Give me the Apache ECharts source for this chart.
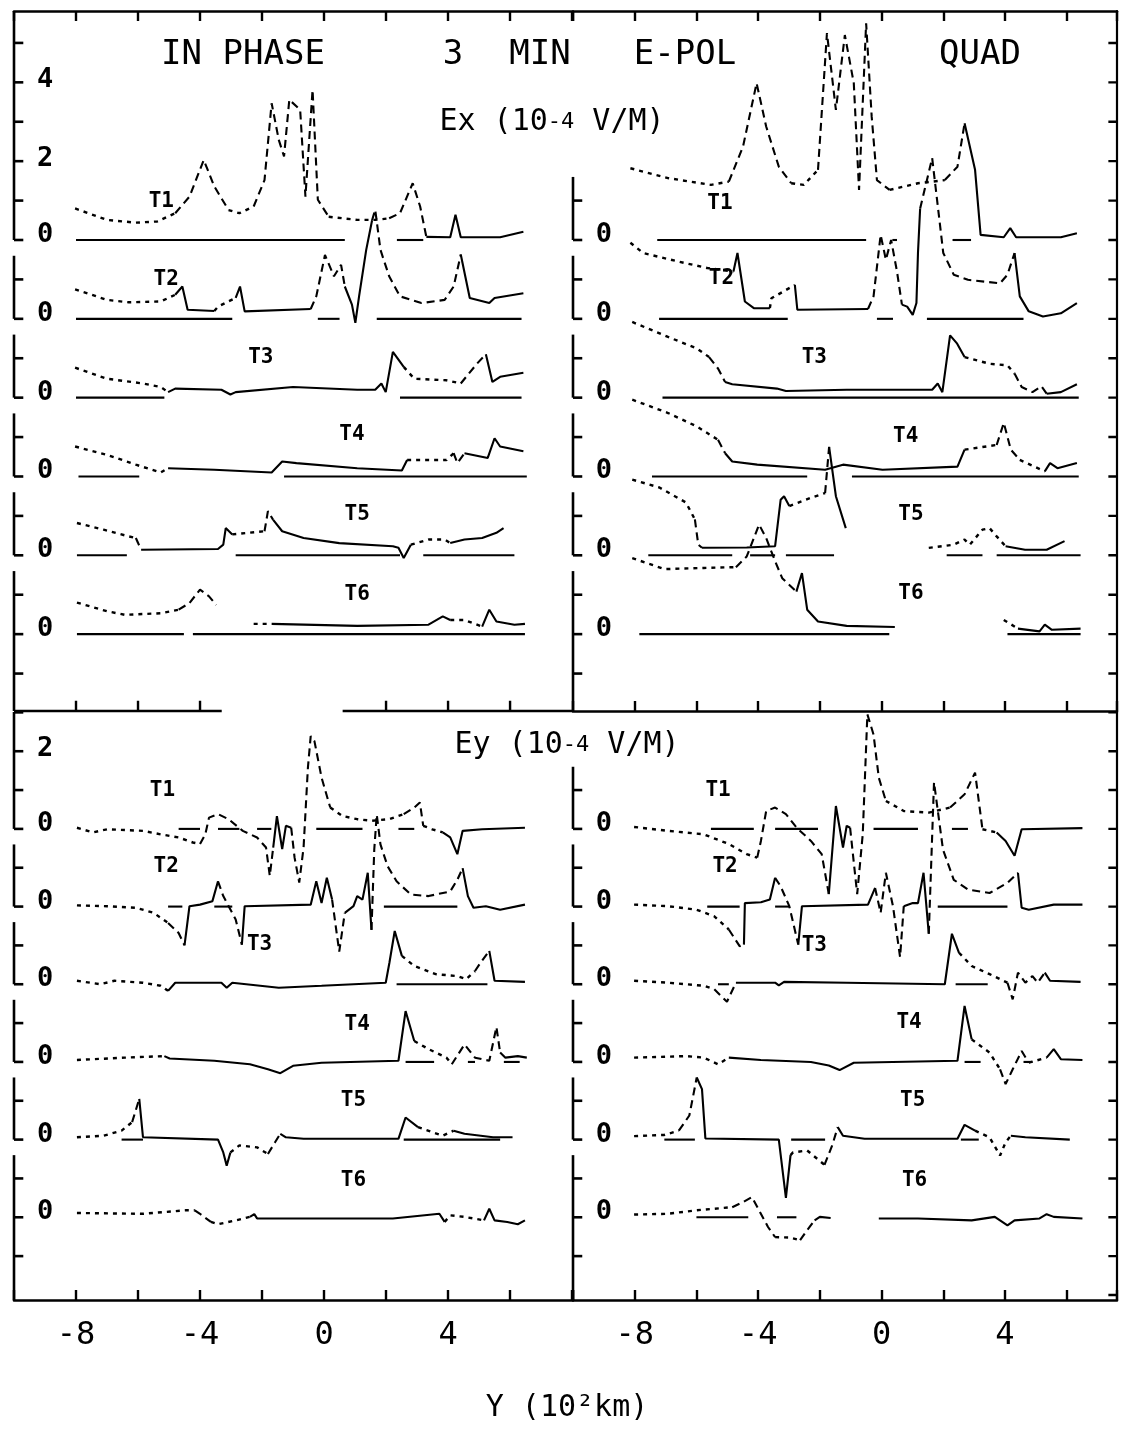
<!DOCTYPE html>
<html>
<head>
<meta charset="utf-8">
<script src="https://cdn.jsdelivr.net/npm/echarts@6/dist/echarts.min.js"></script>
<style>
html, body { margin: 0; background: #fff; }
#chart { width: 1122px; height: 1434px; }
</style>
</head>
<body>
<div id="chart"></div>
<script>
// each trace: list of [style, points], point = [Y (10^2 km), E (10^-4 V/M) above its own zero]

// ---- Ex, in phase
const exIpT1 = [
  ['dot', [[-8.03, 0.8], [-7.0, 0.51], [-6.07, 0.44], [-5.38, 0.47], [-4.8, 0.68]]],
  ['dash', [[-4.8, 0.68], [-4.34, 1.1], [-3.88, 2.03], [-3.54, 1.36], [-3.08, 0.76]]],
  ['dot', [[-3.08, 0.76], [-2.73, 0.68], [-2.27, 0.85]]],
  ['dash', [[-2.27, 0.85], [-1.92, 1.52], [-1.69, 3.47], [-1.46, 2.54], [-1.29, 2.12], [-1.12, 3.56], [-0.77, 3.3], [-0.6, 1.1], [-0.37, 3.81], [-0.2, 1.02], [0.15, 0.59]]],
  ['dot', [[0.15, 0.59], [1.07, 0.51], [1.65, 0.51], [2.1, 0.55]]],
  ['dash', [[2.1, 0.55], [2.45, 0.68], [2.86, 1.44], [3.1, 0.85], [3.3, 0.08]]],
  ['solid', [[3.3, 0.08], [4.07, 0.07], [4.24, 0.64], [4.41, 0.07], [5.68, 0.07], [6.43, 0.21]]]
];
const exIpT2 = [
  ['dot', [[-8.03, 0.75], [-7.0, 0.48], [-6.3, 0.42], [-5.27, 0.44], [-4.8, 0.61]]],
  ['solid', [[-4.8, 0.61], [-4.57, 0.82], [-4.4, 0.23], [-3.54, 0.2]]],
  ['dot', [[-3.54, 0.2], [-3.42, 0.31], [-2.85, 0.53]]],
  ['solid', [[-2.85, 0.53], [-2.71, 0.82], [-2.56, 0.19], [-0.43, 0.25]]],
  ['dash', [[-0.43, 0.25], [-0.25, 0.57], [0.03, 1.62], [0.32, 1.08], [0.55, 1.37], [0.67, 0.82]]],
  ['solid', [[0.67, 0.82], [0.9, 0.36], [1.01, -0.1], [1.13, 0.57], [1.36, 1.75], [1.55, 2.5]]],
  ['dash', [[1.55, 2.5], [1.65, 2.77], [1.82, 1.75], [2.1, 1.08], [2.45, 0.57], [3.14, 0.4], [3.89, 0.48], [4.18, 0.82], [4.41, 1.63]]],
  ['solid', [[4.41, 1.63], [4.7, 0.53], [5.33, 0.4], [5.5, 0.53], [6.43, 0.65]]]
];
const exIpT3 = [
  ['dot', [[-8.03, 0.76], [-7.0, 0.48], [-5.84, 0.36], [-5.27, 0.27], [-5.03, 0.14]]],
  ['solid', [[-5.03, 0.14], [-4.8, 0.23], [-3.31, 0.2], [-3.02, 0.08], [-2.85, 0.14], [-1.0, 0.27], [1.07, 0.2], [1.65, 0.2], [1.85, 0.36], [1.99, 0.14], [2.22, 1.16], [2.57, 0.78]]],
  ['dot', [[2.57, 0.78], [2.91, 0.48], [3.95, 0.44], [4.41, 0.36]]],
  ['dash', [[4.41, 0.36], [4.93, 0.86], [5.22, 1.1]]],
  ['solid', [[5.22, 1.1], [5.43, 0.4], [5.68, 0.53], [6.43, 0.63]]]
];
const exIpT4 = [
  ['dot', [[-8.03, 0.76], [-7.0, 0.55], [-6.07, 0.3], [-5.27, 0.1], [-5.03, 0.21]]],
  ['solid', [[-5.03, 0.21], [-3.54, 0.17], [-1.69, 0.1], [-1.35, 0.38], [-0.89, 0.34], [1.07, 0.21], [2.51, 0.15], [2.68, 0.42]]],
  ['dot', [[2.68, 0.42], [3.95, 0.42], [4.18, 0.59]]],
  ['dash', [[4.18, 0.59], [4.3, 0.34], [4.53, 0.59]]],
  ['solid', [[4.53, 0.59], [5.28, 0.47], [5.5, 0.97], [5.68, 0.76], [6.43, 0.64]]]
];
const exIpT5 = [
  ['dot', [[-7.97, 0.82], [-7.11, 0.65], [-6.3, 0.48], [-6.07, 0.44]]],
  ['dash', [[-6.07, 0.44], [-5.9, 0.14]]],
  ['solid', [[-5.9, 0.14], [-5.84, 0.12], [-3.42, 0.16], [-3.25, 0.27], [-3.17, 0.69], [-2.96, 0.53]]],
  ['dot', [[-2.96, 0.53], [-1.92, 0.61]]],
  ['dash', [[-1.92, 0.61], [-1.81, 1.12], [-1.64, 0.9]]],
  ['solid', [[-1.64, 0.9], [-1.35, 0.61], [-0.66, 0.44], [0.49, 0.31], [2.22, 0.23], [2.4, 0.19], [2.57, -0.07], [2.8, 0.27]]],
  ['dot', [[2.8, 0.27], [3.37, 0.4], [3.89, 0.4], [4.07, 0.31]]],
  ['solid', [[4.07, 0.31], [4.53, 0.4], [5.1, 0.44], [5.56, 0.57], [5.79, 0.69]]]
];
const exIpT6 = [
  ['dot', [[-7.97, 0.8], [-7.0, 0.58], [-6.42, 0.49], [-5.27, 0.53], [-4.69, 0.62]]],
  ['dash', [[-4.69, 0.62], [-4.34, 0.79], [-4.0, 1.13], [-3.71, 0.96], [-3.48, 0.74]]],
  ['dot', [[-2.27, 0.26], [-1.69, 0.26]]],
  ['solid', [[-1.69, 0.26], [1.07, 0.21], [3.37, 0.24], [3.83, 0.45], [4.07, 0.36]]],
  ['dot', [[4.07, 0.36], [4.53, 0.36], [5.1, 0.19]]],
  ['solid', [[5.1, 0.19], [5.33, 0.62], [5.56, 0.32], [6.14, 0.24], [6.48, 0.26]]]
];
const exIpBase = [
  [[-8, 0.67], [2.35, 3.2]],
  [[-8, -2.96], [-0.2, 0.5], [1.7, 6.37]],
  [[-8, -5.15], [2.45, 6.37]],
  [[-7.92, -5.96], [-1.29, 6.54]],
  [[-7.97, -6.36], [-2.85, 2.45], [3.2, 6.14]],
  [[-7.97, -4.52], [-4.23, 6.48]]
];
const exIpTags = [[-5.25, 0.97], [-5.09, 0.99], [-2.04, 1.03], [0.9, 1.06], [1.07, 1.03], [1.07, 1.0]];

// ---- Ex, quadrature
const exQdT1 = [
  ['dot', [[-8.14, 1.82], [-6.92, 1.57], [-5.53, 1.4], [-4.95, 1.48]]],
  ['dash', [[-4.95, 1.48], [-4.49, 2.37], [-4.05, 3.98], [-3.74, 2.88], [-3.33, 1.86], [-2.93, 1.44]]],
  ['dot', [[-2.93, 1.44], [-2.52, 1.4], [-2.06, 1.78]]],
  ['dash', [[-2.06, 1.78], [-1.77, 5.25], [-1.48, 3.3], [-1.19, 5.2], [-0.9, 3.98], [-0.73, 1.27], [-0.5, 5.5], [-0.32, 3.13], [-0.15, 1.52], [0.26, 1.27]]],
  ['dot', [[0.26, 1.27], [1.18, 1.44], [1.64, 1.48], [2.05, 1.52]]],
  ['dash', [[2.05, 1.52], [2.46, 1.86], [2.69, 2.96]]],
  ['solid', [[2.69, 2.96], [3.03, 1.78], [3.21, 0.13], [3.96, 0.07], [4.17, 0.3], [4.36, 0.07], [5.81, 0.07], [6.33, 0.17]]]
];
const exQdT2 = [
  ['dot', [[-8.14, 1.93], [-7.73, 1.67], [-6.57, 1.45], [-5.65, 1.29], [-4.8, 1.2]]],
  ['solid', [[-4.8, 1.2], [-4.67, 1.67], [-4.43, 0.44], [-4.14, 0.27], [-3.62, 0.27]]],
  ['dot', [[-3.62, 0.27], [-3.57, 0.52], [-2.81, 0.86]]],
  ['solid', [[-2.81, 0.86], [-2.73, 0.23], [-0.44, 0.25]]],
  ['dash', [[-0.44, 0.25], [-0.26, 0.57], [-0.03, 2.13], [0.14, 1.5], [0.31, 2.0], [0.5, 1.2], [0.66, 0.36]]],
  ['solid', [[0.66, 0.36], [0.83, 0.31], [1.01, 0.1], [1.13, 0.4], [1.18, 1.67], [1.25, 2.8]]],
  ['dash', [[1.25, 2.8], [1.64, 4.08], [2.0, 1.67], [2.34, 1.12], [2.8, 0.99], [3.84, 0.9], [4.08, 1.12], [4.31, 1.67]]],
  ['solid', [[4.31, 1.67], [4.48, 0.57], [4.77, 0.19], [5.23, 0.06], [5.81, 0.14], [6.33, 0.4]]]
];
const exQdT3 = [
  ['dot', [[-8.08, 1.92], [-6.92, 1.54], [-5.99, 1.25], [-5.59, 1.03]]],
  ['dash', [[-5.59, 1.03], [-5.3, 0.74], [-5.07, 0.4]]],
  ['solid', [[-5.07, 0.4], [-4.84, 0.34], [-3.39, 0.23], [-3.1, 0.17], [-1.13, 0.2], [1.64, 0.2], [1.82, 0.36], [1.97, 0.14], [2.22, 1.58], [2.45, 1.37], [2.69, 1.03]]],
  ['dot', [[2.69, 1.03], [3.5, 0.86], [4.08, 0.82], [4.31, 0.61]]],
  ['dash', [[4.31, 0.61], [4.54, 0.27], [4.89, 0.14], [5.18, 0.29], [5.35, 0.1]]],
  ['solid', [[5.35, 0.1], [5.81, 0.14], [6.33, 0.34]]]
];
const exQdT4 = [
  ['dot', [[-8.08, 1.95], [-6.92, 1.61], [-5.99, 1.27], [-5.3, 0.93]]],
  ['dash', [[-5.3, 0.93], [-5.07, 0.59]]],
  ['solid', [[-5.07, 0.59], [-4.84, 0.38], [-4.03, 0.3], [-1.83, 0.17], [-1.25, 0.3], [0.03, 0.17], [2.46, 0.25], [2.69, 0.68]]],
  ['dot', [[2.69, 0.68], [3.73, 0.8]]],
  ['dash', [[3.73, 0.8], [3.96, 1.36], [4.19, 0.68], [4.48, 0.42]]],
  ['dot', [[4.48, 0.42], [5.29, 0.13]]],
  ['solid', [[5.29, 0.13], [5.46, 0.34], [5.7, 0.21], [6.33, 0.34]]]
];
const exQdT5 = [
  ['dot', [[-8.08, 1.92], [-7.2, 1.72], [-6.34, 1.34], [-6.05, 0.91]]],
  ['dash', [[-6.05, 0.91], [-5.94, 0.27], [-5.82, 0.19]]],
  ['solid', [[-5.82, 0.19], [-4.37, 0.2], [-3.45, 0.23], [-3.27, 1.41], [-3.16, 1.5], [-2.99, 1.25]]],
  ['dot', [[-2.99, 1.25], [-2.29, 1.46], [-1.83, 1.58]]],
  ['dash', [[-1.83, 1.58], [-1.7, 2.75]]],
  ['solid', [[-1.7, 2.75], [-1.48, 1.5], [-1.16, 0.69]]],
  ['dot', [[1.53, 0.19], [2.34, 0.27], [2.69, 0.4], [2.86, 0.27], [3.27, 0.65], [3.5, 0.69], [3.73, 0.48], [4.02, 0.23]]],
  ['solid', [[4.02, 0.23], [4.65, 0.14], [5.35, 0.14], [5.93, 0.36]]]
];
const exQdT6 = [
  ['dot', [[-8.08, 1.93], [-7.04, 1.65], [-5.76, 1.68], [-4.72, 1.7]]],
  ['dash', [[-4.72, 1.7], [-4.37, 1.97], [-3.97, 2.78], [-3.74, 2.44], [-3.45, 1.85], [-3.22, 1.42], [-2.76, 1.08]]],
  ['solid', [[-2.76, 1.08], [-2.58, 1.55], [-2.41, 0.62], [-2.06, 0.32], [-1.13, 0.21], [0.43, 0.18]]],
  ['dot', [[3.96, 0.36], [4.42, 0.14]]],
  ['solid', [[4.42, 0.14], [5.12, 0.07], [5.29, 0.24], [5.52, 0.11], [6.45, 0.14]]]
];
const exQdBase = [
  [[-7.27, -0.5], [0.35, 0.5], [2.3, 2.9]],
  [[-7.21, -3.04], [-0.15, 0.37], [1.47, 4.6]],
  [[-7.1, 6.39]],
  [[-7.44, -2.41], [-0.96, 6.39]],
  [[-7.56, -4.84], [-4.26, -3.45], [-3.1, -1.54], [2.11, 3.27], [3.73, 6.45]],
  [[-7.85, 0.25], [4.08, 6.45]]
];
const exQdTags = [[-5.24, 0.93], [-5.19, 1.03], [-2.18, 1.03], [0.78, 1.02], [0.95, 1.03], [0.95, 1.04]];

// ---- Ey, in phase
const eyIpT1 = [
  ['dot', [[-7.97, 0.03], [-7.45, -0.09], [-7.0, -0.01], [-5.84, -0.05], [-5.27, -0.14], [-4.69, -0.22], [-4.23, -0.35], [-4.0, -0.39]]],
  ['dash', [[-4.0, -0.39], [-3.83, -0.14], [-3.71, 0.29], [-3.42, 0.38], [-3.08, 0.25], [-2.62, -0.05], [-2.16, -0.22], [-1.87, -0.48], [-1.75, -1.21], [-1.64, -0.48]]],
  ['solid', [[-1.64, -0.48], [-1.52, 0.33], [-1.35, -0.52], [-1.23, 0.08], [-1.06, 0.03]]],
  ['dash', [[-1.06, 0.03], [-0.95, -0.74], [-0.8, -1.38], [-0.66, -0.48], [-0.52, 1.58], [-0.43, 2.39], [-0.31, 2.26], [-0.08, 1.32], [0.2, 0.55]]],
  ['dot', [[0.2, 0.55], [0.6, 0.33], [1.07, 0.25], [1.53, 0.21], [2.11, 0.25], [2.57, 0.38]]],
  ['dash', [[2.57, 0.38], [2.91, 0.55], [3.09, 0.68], [3.2, 0.08]]],
  ['dot', [[3.2, 0.08], [3.49, -0.01], [3.83, -0.09]]],
  ['solid', [[3.83, -0.09], [4.07, -0.22], [4.3, -0.65], [4.47, -0.05], [5.1, -0.01], [6.48, 0.03]]]
];
const eyIpT2 = [
  ['dot', [[-7.97, 0.03], [-7.0, 0.01], [-6.07, -0.03], [-5.5, -0.16], [-5.03, -0.42]]],
  ['dash', [[-5.03, -0.42], [-4.69, -0.68], [-4.5, -1.0]]],
  ['solid', [[-4.5, -1.0], [-4.34, 0.01], [-4.0, 0.05], [-3.6, 0.14], [-3.42, 0.65]]],
  ['dash', [[-3.42, 0.65], [-3.25, 0.27], [-2.85, -0.33], [-2.65, -0.98]]],
  ['solid', [[-2.65, -0.98], [-2.56, 0.01], [-0.43, 0.05], [-0.25, 0.65], [-0.08, 0.09], [0.09, 0.74], [0.26, 0.18]]],
  ['dash', [[0.26, 0.18], [0.49, -1.16], [0.67, -0.16]]],
  ['solid', [[0.67, -0.16], [0.95, 0.01], [1.07, 0.27], [1.24, 0.18], [1.41, 0.87], [1.53, -0.6]]],
  ['dash', [[1.53, -0.6], [1.62, 1.47], [1.7, 2.37], [1.82, 1.6], [2.05, 1.04], [2.34, 0.65], [2.8, 0.31], [3.37, 0.27], [4.07, 0.39], [4.3, 0.69], [4.47, 0.99]]],
  ['solid', [[4.47, 0.99], [4.64, 0.27], [4.82, -0.03], [5.22, 0.01], [5.68, -0.08], [6.48, 0.05]]]
];
const eyIpT3 = [
  ['dot', [[-7.97, 0.09], [-7.22, 0], [-6.76, 0.09], [-5.84, 0.04], [-5.27, -0.04], [-5.03, -0.17]]],
  ['solid', [[-5.03, -0.17], [-4.8, 0.04], [-3.31, 0.04], [-3.14, -0.09], [-2.96, 0.04], [-1.46, -0.09], [-0.08, -0.04], [1.99, 0.04], [2.11, 0.56], [2.28, 1.37], [2.51, 0.73]]],
  ['dot', [[2.51, 0.73], [2.91, 0.47], [3.6, 0.26], [4.3, 0.21], [4.58, 0.13], [4.87, 0.34]]],
  ['dash', [[4.87, 0.34], [5.05, 0.56], [5.33, 0.86]]],
  ['solid', [[5.33, 0.86], [5.5, 0.09], [6.48, 0.06]]]
];
const eyIpT4 = [
  ['dot', [[-7.97, 0.05], [-6.42, 0.11], [-5.15, 0.15]]],
  ['solid', [[-5.15, 0.15], [-4.98, 0.09], [-3.54, 0.03], [-2.39, -0.06], [-1.81, -0.19], [-1.41, -0.29], [-1.0, -0.1], [-0.08, -0.02], [2.4, 0.03], [2.63, 1.31], [2.91, 0.54]]],
  ['dot', [[2.91, 0.54], [3.37, 0.33], [3.95, 0.11], [4.12, -0.06]]],
  ['dash', [[4.12, -0.06], [4.53, 0.45], [4.87, 0.11], [5.33, 0.03], [5.56, 0.9], [5.68, 0.24]]],
  ['solid', [[5.68, 0.24], [5.85, 0.11], [6.25, 0.15], [6.54, 0.11]]]
];
const eyIpT5 = [
  ['dot', [[-7.97, 0.06], [-7.11, 0.1], [-6.53, 0.23], [-6.19, 0.45]]],
  ['dash', [[-6.19, 0.45], [-5.96, 1.05]]],
  ['solid', [[-5.96, 1.05], [-5.84, 0.06], [-3.42, 0], [-3.25, -0.33], [-3.14, -0.67], [-3.02, -0.33]]],
  ['dot', [[-3.02, -0.33], [-2.73, -0.15], [-2.16, -0.2], [-1.81, -0.37]]],
  ['dash', [[-1.81, -0.37], [-1.58, -0.07], [-1.41, 0.15]]],
  ['solid', [[-1.41, 0.15], [-1.23, 0.06], [-0.66, 0.02], [2.4, 0.02], [2.63, 0.57], [3.03, 0.32]]],
  ['dot', [[3.03, 0.32], [3.83, 0.1], [4.18, 0.23]]],
  ['solid', [[4.18, 0.23], [4.53, 0.15], [5.45, 0.06], [6.08, 0.06]]]
];
const eyIpT6 = [
  ['dot', [[-7.97, 0.11], [-5.84, 0.09], [-4.46, 0.18], [-4.17, 0.18]]],
  ['dash', [[-4.17, 0.18], [-4.0, 0.09], [-3.65, -0.12]]],
  ['dot', [[-3.65, -0.12], [-3.42, -0.18], [-2.85, -0.08], [-2.39, 0.01]]],
  ['solid', [[-2.39, 0.01], [-2.25, 0.08], [-2.16, -0.03], [-0.08, -0.03], [2.22, -0.03], [3.72, 0.09], [3.89, -0.12]]],
  ['dot', [[3.89, -0.12], [4.07, 0.05], [4.53, 0.01], [5.16, -0.08]]],
  ['solid', [[5.16, -0.08], [5.33, 0.22], [5.5, -0.08], [5.91, -0.12], [6.25, -0.18], [6.48, -0.08]]]
];
const eyIpBase = [
  [[-4.69, -4.0], [-3.42, -2.73], [-2.16, -1.7], [-0.25, 1.24], [2.4, 2.91]],
  [[-5.03, -4.57], [-3.54, -2.96], [1.93, 4.3]],
  [[2.34, 5.27]],
  [[2.63, 3.55], [4.64, 4.87], [5.8, 6.31]],
  [[-6.53, -5.84], [2.57, 5.68]],
  []
];
const eyIpTags = [[-5.21, 0.98], [-5.09, 1.04], [-2.08, 1.03], [1.07, 0.97], [0.95, 1.0], [0.95, 0.95]];

// ---- Ey, quadrature
const eyQdT1 = [
  ['dot', [[-8.02, 0.05], [-6.92, -0.05], [-5.76, -0.14], [-4.95, -0.39], [-4.37, -0.65], [-4.03, -0.74]]],
  ['dash', [[-4.03, -0.74], [-3.91, -0.31], [-3.74, 0.46], [-3.45, 0.55], [-3.1, 0.38], [-2.75, 0.03], [-2.29, -0.31], [-1.94, -0.65], [-1.71, -1.68]]],
  ['solid', [[-1.71, -1.68], [-1.48, 0.59], [-1.25, -0.48], [-1.13, 0.08], [-1.02, 0.03]]],
  ['dash', [[-1.02, 0.03], [-0.79, -1.68], [-0.61, -0.14], [-0.46, 2.95], [-0.26, 2.43], [-0.09, 1.32], [0.14, 0.72]]],
  ['dot', [[0.14, 0.72], [0.72, 0.46], [1.53, 0.42], [2.22, 0.55]]],
  ['dash', [[2.22, 0.55], [2.69, 0.89], [3.03, 1.45], [3.15, 0.72], [3.27, -0.01]]],
  ['dot', [[3.27, -0.01], [3.73, -0.09]]],
  ['solid', [[3.73, -0.09], [4.02, -0.31], [4.31, -0.69], [4.54, -0.01], [6.51, 0.02]]]
];
const eyQdT2 = [
  ['dot', [[-8.02, 0.05], [-6.92, 0.01], [-6.0, -0.08], [-5.42, -0.25], [-4.95, -0.59]]],
  ['dash', [[-4.95, -0.59], [-4.6, -1.02], [-4.46, -0.98]]],
  ['solid', [[-4.46, -0.98], [-4.43, 0.09], [-3.91, 0.11], [-3.62, 0.18], [-3.45, 0.74]]],
  ['dash', [[-3.45, 0.74], [-3.27, 0.52], [-2.99, 0.01], [-2.7, -0.98]]],
  ['solid', [[-2.7, -0.98], [-2.58, 0.01], [-0.44, 0.05], [-0.21, 0.48]]],
  ['dash', [[-0.21, 0.48], [-0.03, -0.16], [0.14, 0.87], [0.37, 0.01], [0.6, -1.3], [0.72, 0.01]]],
  ['solid', [[0.72, 0.01], [1.01, 0.09], [1.18, 0.09], [1.36, 0.87], [1.53, -0.7]]],
  ['dash', [[1.53, -0.7], [1.7, 3.2], [1.99, 1.47], [2.34, 0.69], [2.8, 0.44], [3.5, 0.35], [4.08, 0.61], [4.42, 0.87]]],
  ['solid', [[4.42, 0.87], [4.54, -0.03], [4.77, -0.08], [5.58, 0.05], [6.51, 0.05]]]
];
const eyQdT3 = [
  ['dot', [[-8.02, 0.09], [-6.92, 0.04], [-5.76, -0.04], [-5.42, -0.13]]],
  ['dash', [[-5.42, -0.13], [-5.01, -0.45], [-4.72, 0.04]]],
  ['solid', [[-4.72, 0.04], [-3.45, 0.04], [-3.33, -0.03], [-3.16, 0.06], [-1.13, 0.04], [2.05, 0], [2.28, 1.3], [2.51, 0.81]]],
  ['dot', [[2.51, 0.81], [2.92, 0.47], [3.5, 0.26], [4.08, 0.04]]],
  ['dash', [[4.08, 0.04], [4.25, -0.39], [4.42, 0.3], [4.66, 0.04], [4.89, 0.21], [5.06, 0.04], [5.29, 0.3]]],
  ['solid', [[5.29, 0.3], [5.46, 0.09], [6.45, 0.06]]]
];
const eyQdT4 = [
  ['dot', [[-8.02, 0.11], [-6.34, 0.15], [-5.76, 0.11], [-5.3, -0.06], [-4.95, 0.11]]],
  ['solid', [[-4.95, 0.11], [-3.91, 0.05], [-2.29, 0], [-1.71, -0.09], [-1.36, -0.21], [-0.9, -0.02], [2.46, 0.03], [2.69, 1.44], [2.92, 0.58]]],
  ['dot', [[2.92, 0.58], [3.5, 0.24], [3.84, -0.19]]],
  ['dash', [[3.84, -0.19], [4.02, -0.57], [4.25, -0.19], [4.54, 0.28], [4.77, -0.02]]],
  ['dot', [[4.77, -0.02], [5.35, 0.11]]],
  ['solid', [[5.35, 0.11], [5.58, 0.33], [5.81, 0.07], [6.51, 0.05]]]
];
const eyQdT5 = [
  ['dot', [[-8.02, 0.09], [-7.04, 0.12], [-6.57, 0.23]]],
  ['dash', [[-6.57, 0.23], [-6.23, 0.62], [-5.99, 1.6]]],
  ['solid', [[-5.99, 1.6], [-5.82, 1.3], [-5.71, 0.03], [-3.33, 0], [-3.1, -1.5], [-2.95, -0.4]]],
  ['dot', [[-2.95, -0.4], [-2.87, -0.33], [-2.41, -0.28], [-1.85, -0.65]]],
  ['dash', [[-1.85, -0.65], [-1.6, -0.15], [-1.42, 0.32]]],
  ['solid', [[-1.42, 0.32], [-1.25, 0.1], [-0.55, 0.02], [2.46, 0.02], [2.69, 0.38], [3.03, 0.23]]],
  ['dot', [[3.03, 0.23], [3.5, 0.06], [3.84, -0.41], [4.02, -0.07], [4.19, 0.1]]],
  ['solid', [[4.19, 0.1], [4.66, 0.06], [6.1, 0]]]
];
const eyQdT6 = [
  ['dot', [[-8.02, 0.07], [-6.92, 0.09], [-6.0, 0.18], [-4.84, 0.26]]],
  ['dash', [[-4.84, 0.26], [-4.49, 0.39], [-4.2, 0.52], [-3.97, 0.18], [-3.68, -0.25], [-3.45, -0.51]]],
  ['dot', [[-3.45, -0.51], [-2.99, -0.52], [-2.64, -0.59]]],
  ['dash', [[-2.64, -0.59], [-2.41, -0.33], [-2.17, -0.08]]],
  ['solid', [[-2.17, -0.08], [-2.0, 0.01], [-1.65, -0.02]]],
  ['solid', [[-0.09, -0.03], [1.18, -0.03], [2.92, -0.08], [3.67, 0.01], [4.08, -0.21], [4.31, -0.08], [5.12, -0.03], [5.35, 0.08], [5.58, 0.01], [6.51, -0.03]]]
];
const eyQdBase = [
  [[-5.53, -4.14], [-3.45, -2.06], [-0.26, 1.18], [2.28, 2.8]],
  [[-5.65, -4.6], [-3.45, -2.99], [1.82, 4.08]],
  [[-5.3, -4.95], [2.4, 3.44]],
  [[2.69, 3.21], [4.6, 4.89]],
  [[-7.04, -6.05], [-2.93, -1.83], [2.57, 3.15]],
  [[-6.0, -4.32], [-3.39, -2.76]]
];
const eyQdTags = [[-5.3, 0.98], [-5.07, 1.04], [-2.18, 0.99], [0.89, 1.01], [1.01, 1.0], [1.07, 0.95]];

// tick labels
const xLabelValues = [-8, -4, 0, 4];
const dividerTicks = [-8, -6, -4, 2, 4, 6];
const traceNames = ['T1', 'T2', 'T3', 'T4', 'T5', 'T6'];
const exScaleLabels = [4, 2];
const eyScaleLabels = [2];

const INK = '#000';
const FONT = '"DejaVu Sans Mono", "Liberation Mono", monospace';
const DASH = { dot: [4, 5], dash: [8, 5], solid: 'solid' };

const GRIDS = [
  { left: 14, top: 11, width: 559, height: 700, xmax: 8.03, ymin: -11.95, ymax: 5.81 },
  { left: 573, top: 11, width: 544, height: 700, xmax: 7.63, ymin: -11.95, ymax: 5.81 },
  { left: 14, top: 712, width: 559, height: 588, xmax: 8.03, ymin: -12.13, ymax: 3.01 },
  { left: 573, top: 712, width: 544, height: 588, xmax: 7.63, ymin: -12.13, ymax: 3.01 }
];

const panels = [
  { g: 0, traces: [exIpT1, exIpT2, exIpT3, exIpT4, exIpT5, exIpT6], bases: exIpBase, tags: exIpTags, scale: exScaleLabels, open: true },
  { g: 1, traces: [exQdT1, exQdT2, exQdT3, exQdT4, exQdT5, exQdT6], bases: exQdBase, tags: exQdTags, scale: [], open: false },
  { g: 2, traces: [eyIpT1, eyIpT2, eyIpT3, eyIpT4, eyIpT5, eyIpT6], bases: eyIpBase, tags: eyIpTags, scale: eyScaleLabels, open: true },
  { g: 3, traces: [eyQdT1, eyQdT2, eyQdT3, eyQdT4, eyQdT5, eyQdT6], bases: eyQdBase, tags: eyQdTags, scale: [], open: false }
];

function line(g, pts, type, width, clip) {
  return {
    type: 'line', xAxisIndex: g * 2, yAxisIndex: g, data: pts,
    symbol: 'none', silent: true, animation: false, clip: clip,
    lineStyle: { color: INK, width: width, type: type, cap: 'butt' }
  };
}
function labels(g, data, size, weight) {
  return {
    type: 'scatter', xAxisIndex: g * 2, yAxisIndex: g, data: data,
    symbolSize: 1, itemStyle: { color: 'rgba(0,0,0,0)' }, silent: true, animation: false, z: 5,
    label: {
      show: true, position: 'inside', formatter: p => p.data[2], color: INK, opacity: 1,
      textBorderWidth: 0, fontSize: size, fontWeight: weight, fontFamily: FONT
    }
  };
}

const series = [];
panels.forEach(p => {
  const G = GRIDS[p.g];
  p.traces.forEach((tr, i) => {
    const off = -2 * i;
    tr.forEach(([style, pts]) => {
      series.push(line(p.g, pts.map(d => [d[0], d[1] + off]), DASH[style], style === 'dot' ? 2.4 : 2.1, true));
    });
    p.bases[i].forEach(([a, b]) => {
      series.push(line(p.g, [[a, off], [b, off]], 'solid', 2.1, true));
    });
  });

  // left bracket axes, one per trace
  for (let i = 0; i < 6; i++) {
    const z = -2 * i;
    const top = (i === 0 && p.open) ? G.ymax : z + 1.6;
    const bottom = i === 5 ? G.ymin : z;
    series.push(line(p.g, [[-10, top], [-10, bottom]], 'solid', 2.6, false));
    const ks = [z];
    if (i === 0 && p.open) { for (let k = 1; k <= Math.floor(G.ymax); k++) ks.push(k); }
    else ks.push(z + 1);
    if (i === 5) ks.push(z - 1);
    ks.forEach(k => series.push(line(p.g, [[-10, k], [-9.7, k]], 'solid', 2.6, false)));
  }

  // right frame ticks
  if (p.g === 1 || p.g === 3) {
    for (let k = Math.ceil(G.ymin); k <= Math.floor(G.ymax); k++) {
      series.push(line(p.g, [[G.xmax, k], [G.xmax - 0.28, k]], 'solid', 2.4, false));
    }
  }

  // value labels and trace names
  const lab = p.scale.map(v => [-9, v + 0.05, String(v)]);
  for (let i = 0; i < 6; i++) lab.push([-9, -2 * i + 0.13, '0']);
  series.push(labels(p.g, lab, 27, 'bold'));
  series.push(labels(p.g, p.tags.map((t, i) => [t[0], t[1] - 2 * i, traceNames[i]]), 21, 'bold'));
});

// divider between Ex and Ey (broken on the left), ticks pointing up
const yDiv = GRIDS[0].ymin;
series.push(line(0, [[-10, yDiv], [-3.3, yDiv]], 'solid', 2.6, false));
series.push(line(0, [[0.6, yDiv], [GRIDS[0].xmax, yDiv]], 'solid', 2.6, false));
dividerTicks.forEach(t => series.push(line(0, [[t, yDiv], [t, yDiv + 0.26]], 'solid', 2.4, false)));

const xAxis = [];
const yAxis = [];
GRIDS.forEach((G, g) => {
  const bottomPanel = g >= 2;
  xAxis.push({
    type: 'value', gridIndex: g, position: 'bottom', min: -10, max: G.xmax, interval: 2,
    axisLine: { show: g !== 0, onZero: false, lineStyle: { color: INK, width: 2.6 } },
    axisTick: { show: g !== 0, inside: true, length: 10, lineStyle: { color: INK, width: 2.4 } },
    axisLabel: {
      show: bottomPanel, margin: 20, color: INK, fontSize: 32, fontFamily: FONT,
      formatter: v => (xLabelValues.indexOf(v) >= 0 ? String(v) : '')
    },
    splitLine: { show: false }
  });
  xAxis.push({
    type: 'value', gridIndex: g, position: 'top', min: -10, max: G.xmax, interval: 2, show: !bottomPanel,
    axisLine: { show: true, onZero: false, lineStyle: { color: INK, width: 2.6 } },
    axisTick: { show: true, inside: true, length: 10, lineStyle: { color: INK, width: 2.4 } },
    axisLabel: { show: false }, splitLine: { show: false }
  });
  yAxis.push({
    type: 'value', gridIndex: g, position: 'right', min: G.ymin, max: G.ymax,
    show: g === 1 || g === 3,
    axisLine: { show: true, onZero: false, lineStyle: { color: INK, width: 2.2 } },
    axisTick: { show: false }, axisLabel: { show: false }, splitLine: { show: false }
  });
});

function txt(x, y, text, size, rich) {
  return {
    type: 'text', x: x, y: y, z: 10, silent: true,
    style: { text: text, fontSize: size, fontFamily: FONT, fill: INK, align: 'center', verticalAlign: 'middle', rich: rich || {} }
  };
}
const sup = { s: { fontSize: 22, fontFamily: FONT, fill: INK } };

const chart = echarts.init(document.getElementById('chart'));
chart.setOption({
  backgroundColor: '#fff',
  animation: false,
  grid: GRIDS.map(G => ({ left: G.left, top: G.top, width: G.width, height: G.height, containLabel: false })),
  xAxis: xAxis,
  yAxis: yAxis,
  series: series,
  graphic: [
    txt(243, 55, 'IN PHASE', 34),
    txt(453, 55, '3', 34),
    txt(540, 55, 'MIN', 34),
    txt(685, 55, 'E-POL', 34),
    txt(980, 55, 'QUAD', 34),
    txt(552, 122, 'Ex (10{s|-4} V/M)', 30, sup),
    txt(567, 745, 'Ey (10{s|-4} V/M)', 30, sup),
    txt(567, 1408, 'Y (10²km)', 30)
  ]
});
</script>
</body>
</html>
